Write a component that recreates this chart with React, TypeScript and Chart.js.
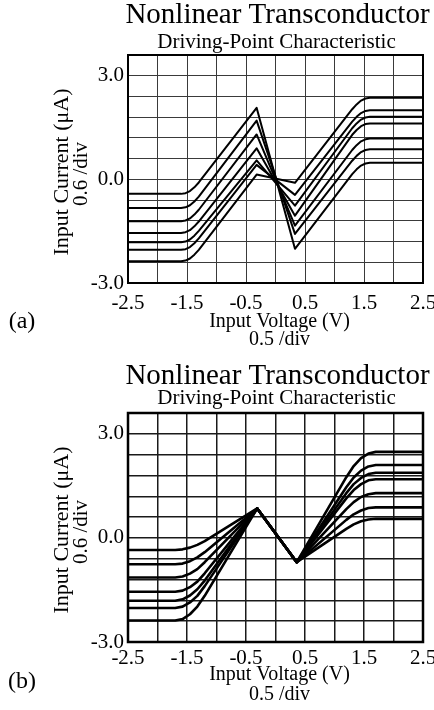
import React, { useEffect, useRef } from 'react';
import { Chart, registerables } from 'chart.js';

Chart.register(...registerables);

// ---------- text ----------
const TITLE = 'Nonlinear Transconductor';
const SUBTITLE = 'Driving-Point Characteristic';
const Y_TITLE = ['Input Current (\u03BCA)', '0.6 /div'];
const X_TITLE = ['Input Voltage (V)', '0.5 /div'];

// ---------- axes ----------
const X_GRID = [-2.5, -2.0, -1.5, -1.0, -0.5, 0, 0.5, 1.0, 1.5, 2.0, 2.5];
const Y_GRID = [-3.0, -2.4, -1.8, -1.2, -0.6, 0, 0.6, 1.2, 1.8, 2.4, 3.0, 3.6];
const X_TICK_LABELS = ['-2.5', '-1.5', '-0.5', '0.5', '1.5', '2.5'];
const Y_TICK_LABELS = ['-3.0', '0.0', '3.0'];

// ---------- panel (a) data ----------
const XA = [-2.5, -1.6, -1.525, -1.45, -1.375, -1.3, -0.32, 0.33, 1.3, 1.375, 1.45, 1.525, 1.6, 2.5];
const A1 = [-0.42, -0.42, -0.40, -0.34, -0.23, -0.09, 2.07, -2.01, 0.15, 0.29, 0.40, 0.46, 0.48, 0.48];
const A2 = [-0.83, -0.83, -0.81, -0.75, -0.64, -0.50, 1.70, -1.58, 0.54, 0.68, 0.79, 0.85, 0.87, 0.87];
const A3 = [-1.21, -1.21, -1.19, -1.13, -1.02, -0.88, 1.30, -1.34, 0.85, 0.99, 1.10, 1.16, 1.18, 1.18];
const A4 = [-1.55, -1.55, -1.53, -1.47, -1.36, -1.22, 0.90, -1.05, 1.29, 1.43, 1.54, 1.60, 1.62, 1.62];
const A5 = [-1.82, -1.82, -1.80, -1.74, -1.63, -1.49, 0.55, -0.76, 1.48, 1.62, 1.73, 1.79, 1.81, 1.81];
const A6 = [-2.04, -2.04, -2.02, -1.96, -1.85, -1.71, 0.42, -0.45, 1.67, 1.81, 1.92, 1.98, 2.00, 2.00];
const A7 = [-2.37, -2.37, -2.35, -2.29, -2.18, -2.04, 0.14, -0.10, 2.03, 2.17, 2.28, 2.34, 2.36, 2.36];

// ---------- panel (b) data ----------
const XB = [-2.5, -1.7, -1.575, -1.45, -1.325, -1.2, -0.31, 0.36, 1.2, 1.325, 1.45, 1.575, 1.7, 2.5];
const B1 = [-0.35, -0.35, -0.33, -0.28, -0.20, -0.09, 0.85, -0.70, 0.26, 0.39, 0.48, 0.53, 0.55, 0.55];
const B2 = [-0.76, -0.76, -0.74, -0.67, -0.56, -0.41, 0.85, -0.70, 0.52, 0.68, 0.79, 0.86, 0.88, 0.88];
const B3 = [-1.14, -1.14, -1.11, -1.03, -0.90, -0.70, 0.85, -0.70, 0.83, 1.03, 1.18, 1.26, 1.29, 1.29];
const B4 = [-1.55, -1.55, -1.52, -1.42, -1.26, -1.02, 0.85, -0.70, 1.14, 1.38, 1.55, 1.66, 1.69, 1.69];
const B5 = [-1.81, -1.81, -1.77, -1.66, -1.48, -1.23, 0.85, -0.70, 1.29, 1.55, 1.73, 1.84, 1.88, 1.88];
const B6 = [-2.02, -2.02, -1.98, -1.86, -1.67, -1.39, 0.85, -0.70, 1.46, 1.74, 1.94, 2.06, 2.10, 2.10];
const B7 = [-2.38, -2.38, -2.34, -2.20, -1.98, -1.67, 0.85, -0.70, 1.75, 2.07, 2.30, 2.43, 2.48, 2.48];

// ---------- layout / style ----------
const FONT = "'Liberation Serif', 'Times New Roman', serif";
const W = 434;
const H = 355;
const PLOT_LEFT = 128;
const PLOT_RIGHT = 423;

type Layout = {
  offset: number;
  plotTop: number;
  plotBottom: number;
  titleY: number;
  subtitleY: number;
  yTitleY: number;
  xTitleY: number;
  xDivY: number;
  letterY: number;
  tickPad: number;
  lineWidth: number;
  gridWidth: number;
  gridColor: string;
  frameWidth: number;
};

const LAYOUT_A: Layout = {
  offset: 0, plotTop: 55, plotBottom: 283, titleY: 15, subtitleY: 42, yTitleY: 172,
  xTitleY: 322, xDivY: 340, letterY: 322, tickPad: 8,
  lineWidth: 2, gridWidth: 1, gridColor: '#3a3a3a', frameWidth: 2,
};
const LAYOUT_B: Layout = {
  offset: 355, plotTop: 58, plotBottom: 287, titleY: 21, subtitleY: 43, yTitleY: 175,
  xTitleY: 320, xDivY: 340, letterY: 327, tickPad: 4,
  lineWidth: 2.6, gridWidth: 1.5, gridColor: '#1a1a1a', frameWidth: 2.5,
};

function findLabel(list: string[], v: number): string {
  const l = list.find((t) => Math.abs(parseFloat(t) - v) < 1e-6);
  return l ?? '';
}

function Panel({ xs, series, layout, letter }: { xs: number[]; series: number[][]; layout: Layout; letter: string }) {
  const ref = useRef<HTMLCanvasElement | null>(null);

  useEffect(() => {
    const canvas = ref.current;
    if (!canvas) return;

    const textPlugin = {
      id: 'panelText',
      afterDraw(chart: any) {
        const ctx = chart.ctx as CanvasRenderingContext2D;
        const a = chart.chartArea;
        ctx.save();
        // frame
        ctx.strokeStyle = '#000';
        ctx.lineWidth = layout.frameWidth;
        ctx.strokeRect(a.left, a.top, a.right - a.left, a.bottom - a.top);
        ctx.fillStyle = '#000';
        ctx.textAlign = 'center';
        ctx.textBaseline = 'middle';
        const cx = (a.left + a.right) / 2 + 2;
        ctx.font = `29px ${FONT}`;
        ctx.fillText(TITLE, cx, layout.titleY);
        ctx.font = `21px ${FONT}`;
        ctx.fillText(SUBTITLE, cx - 1, layout.subtitleY);
        ctx.font = `20px ${FONT}`;
        ctx.fillText(X_TITLE[0], cx + 2, layout.xTitleY);
        ctx.fillText(X_TITLE[1], cx + 2, layout.xDivY);
        ctx.font = `24px ${FONT}`;
        ctx.fillText(letter, 22, layout.letterY);
        // y title
        ctx.font = `22px ${FONT}`;
        ctx.save();
        ctx.translate(62, layout.yTitleY);
        ctx.rotate(-Math.PI / 2);
        ctx.fillText(Y_TITLE[0], 0, 0);
        ctx.restore();
        ctx.font = `21px ${FONT}`;
        ctx.save();
        ctx.translate(81, layout.yTitleY + 2);
        ctx.rotate(-Math.PI / 2);
        ctx.fillText(Y_TITLE[1], 0, 0);
        ctx.restore();
        ctx.restore();
      },
    };

    const chart = new Chart(canvas, {
      type: 'line',
      data: {
        datasets: series.map((ys, i) => ({
          label: `curve ${i + 1}`,
          data: xs.map((x, j) => ({ x, y: ys[j] })),
          borderColor: '#000',
          borderWidth: layout.lineWidth,
          pointRadius: 0,
          tension: 0,
          fill: false,
          borderJoinStyle: 'round' as const,
          borderCapStyle: 'round' as const,
        })),
      },
      options: {
        responsive: false,
        animation: false,
        devicePixelRatio: 1,
        events: [],
        layout: { padding: { top: layout.plotTop, right: W - PLOT_RIGHT, left: 0, bottom: 0 } },
        plugins: {
          legend: { display: false },
          tooltip: { enabled: false },
          title: { display: false },
        },
        scales: {
          x: {
            type: 'linear',
            min: -2.5,
            max: 2.5,
            afterBuildTicks: (s: any) => {
              s.ticks = X_GRID.map((v) => ({ value: v }));
            },
            afterFit: (s: any) => {
              s.height = H - layout.plotBottom;
              s.paddingLeft = 0;
              s.paddingRight = 0;
            },
            grid: { color: layout.gridColor, lineWidth: layout.gridWidth, drawTicks: false },
            border: { display: false },
            ticks: {
              autoSkip: false,
              maxRotation: 0,
              minRotation: 0,
              padding: layout.tickPad,
              color: '#000',
              font: { family: FONT, size: 21 },
              callback: (v: any) => findLabel(X_TICK_LABELS, Number(v)),
            },
          },
          y: {
            type: 'linear',
            min: -3.0,
            max: 3.6,
            afterBuildTicks: (s: any) => {
              s.ticks = Y_GRID.map((v) => ({ value: v }));
            },
            afterFit: (s: any) => {
              s.width = PLOT_LEFT;
              s.paddingTop = 0;
              s.paddingBottom = 0;
            },
            grid: { color: layout.gridColor, lineWidth: layout.gridWidth, drawTicks: false },
            border: { display: false },
            ticks: {
              autoSkip: false,
              padding: 4,
              color: '#000',
              font: { family: FONT, size: 21 },
              callback: (v: any) => findLabel(Y_TICK_LABELS, Number(v)),
            },
          },
        },
      },
      plugins: [textPlugin],
    } as any);

    return () => chart.destroy();
  }, [xs, series, layout, letter]);

  return (
    <canvas
      ref={ref}
      width={W}
      height={H}
      style={{ position: 'absolute', left: 0, top: layout.offset, width: W, height: H, display: 'block' }}
    />
  );
}

const SERIES_A = [A1, A2, A3, A4, A5, A6, A7];
const SERIES_B = [B1, B2, B3, B4, B5, B6, B7];

export default function App() {
  return (
    <div style={{ position: 'fixed', left: 0, top: 0, width: W, height: 710, background: '#fff', overflow: 'hidden' }}>
      <Panel xs={XA} series={SERIES_A} layout={LAYOUT_A} letter="(a)" />
      <Panel xs={XB} series={SERIES_B} layout={LAYOUT_B} letter="(b)" />
    </div>
  );
}
